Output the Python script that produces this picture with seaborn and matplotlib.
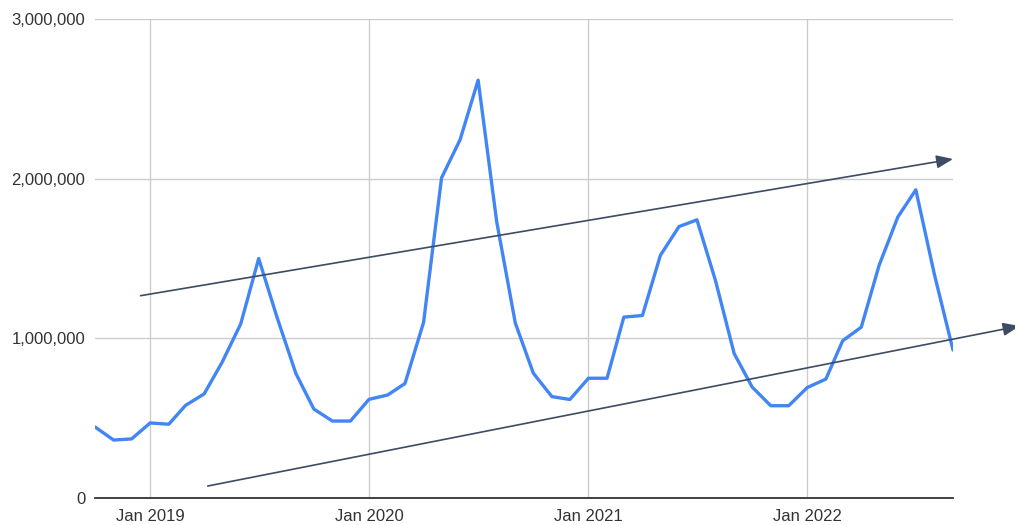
import numpy as np
import pandas as pd
import matplotlib
matplotlib.use("Agg")
import matplotlib.pyplot as plt
import matplotlib.dates as mdates
import matplotlib.ticker as mticker
import seaborn as sns

# ---- data ----
months = pd.date_range("2018-10-01", "2022-09-01", freq="MS")
values_m = [
    0.445, 0.363, 0.370,                                                   # 2018 Oct-Dec
    0.470, 0.462, 0.580, 0.652, 0.850, 1.090, 1.500, 1.127, 0.780, 0.557, 0.482, 0.482,  # 2019
    0.618, 0.645, 0.717, 1.100, 2.005, 2.245, 2.617, 1.730, 1.096, 0.782, 0.635, 0.617,  # 2020
    0.750, 0.750, 1.133, 1.143, 1.520, 1.700, 1.742, 1.360, 0.905, 0.695, 0.578, 0.578,  # 2021
    0.692, 0.745, 0.985, 1.070, 1.460, 1.760, 1.930, 1.400, 0.927,                       # 2022
]
values = [v * 1_000_000 for v in values_m]

# trend arrows (start date, start value, end date, end value)
upper_trend_x = ["2018-12-16", "2022-09-01"]
upper_trend_y = [1_267_000, 2_123_000]
lower_trend_x = ["2019-04-07", "2022-12-21"]
lower_trend_y = [75_000, 1_077_000]

y_ticks = [0, 1_000_000, 2_000_000, 3_000_000]

df = pd.DataFrame({"month": months, "value": values})

# ---- style ----
sns.set_theme(style="white")
plt.rcParams["font.family"] = ["Liberation Sans", "DejaVu Sans"]

fig = plt.figure(figsize=(10.15, 5.25), dpi=100)
ax = fig.add_axes([95 / 1015, 1 - 498 / 525, (953 - 95) / 1015, (498 - 19) / 525])

sns.lineplot(data=df, x="month", y="value", ax=ax, color="#4285F4",
             linewidth=2.4, zorder=3)

ax.set_xlim(pd.Timestamp("2018-10-01"), pd.Timestamp("2022-09-01"))
ax.set_ylim(0, 3_000_000)
ax.set_yticks(y_ticks)
ax.yaxis.set_major_formatter(mticker.FuncFormatter(lambda v, p: f"{int(v):,}"))
ax.xaxis.set_major_locator(mdates.YearLocator())
ax.xaxis.set_major_formatter(mdates.DateFormatter("%b %Y"))

ax.grid(True, color="#cccccc", linewidth=1.0, zorder=0)
ax.set_axisbelow(True)
for s in ["left", "right", "top"]:
    ax.spines[s].set_visible(False)
ax.spines["bottom"].set_color("#333333")
ax.spines["bottom"].set_linewidth(1.3)
ax.spines["bottom"].set_zorder(2)

ax.tick_params(axis="both", length=0, labelsize=12, labelcolor="#333333")
ax.tick_params(axis="y", pad=7)
ax.tick_params(axis="x", pad=8)
ax.set_xlabel("")
ax.set_ylabel("")

arrow_color = "#3d4b63"
for xs, ys in [(upper_trend_x, upper_trend_y), (lower_trend_x, lower_trend_y)]:
    ax.annotate(
        "",
        xy=(mdates.date2num(pd.Timestamp(xs[1])), ys[1]),
        xytext=(mdates.date2num(pd.Timestamp(xs[0])), ys[0]),
        xycoords="data", textcoords="data",
        arrowprops=dict(arrowstyle="-|>,head_length=0.5,head_width=0.2",
                        mutation_scale=20, color=arrow_color, lw=1.2,
                        shrinkA=0, shrinkB=0),
        annotation_clip=False, zorder=4,
    )

fig.savefig("out.png", dpi=100)
